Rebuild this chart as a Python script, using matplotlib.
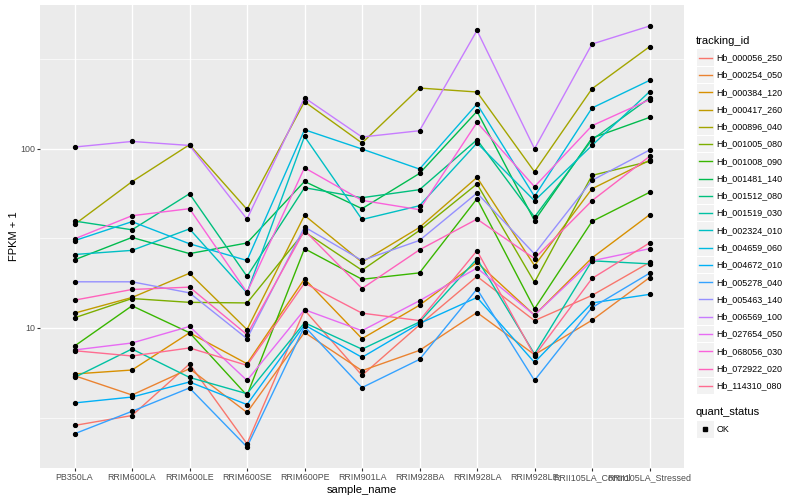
import numpy as np
import matplotlib
matplotlib.use("Agg")
import matplotlib.pyplot as plt
from matplotlib.patches import Rectangle
from matplotlib.lines import Line2D

plt.rcParams['font.family'] = ['Liberation Sans', 'DejaVu Sans']

samples = ["PB350LA", "RRIM600LA", "RRIM600LE", "RRIM600SE", "RRIM600PE",
           "RRIM901LA", "RRIM928BA", "RRIM928LA", "RRIM928LE",
           "RRII105LA_Control", "RRII105LA_Stressed"]

tracking_ids = ["Hb_000056_250", "Hb_000254_050", "Hb_000384_120", "Hb_000417_260",
                "Hb_000896_040", "Hb_001005_080", "Hb_001008_090", "Hb_001481_140",
                "Hb_001512_080", "Hb_001519_030", "Hb_002324_010", "Hb_004659_060",
                "Hb_004672_010", "Hb_005278_040", "Hb_005463_140", "Hb_006569_100",
                "Hb_027654_050", "Hb_068056_030", "Hb_072922_020", "Hb_114310_080"]

# FPKM + 1 per sample
hb_000056_250 = [2.86, 3.25, 6.3, 2.26, 12.6, 5.44, 10.4, 19.4, 11.0, 15.2, 23.2]
hb_000254_050 = [5.42, 4.23, 5.93, 3.38, 9.45, 5.78, 7.5, 12.2, 7.1, 11.05, 19.1]
hb_000384_120 = [5.54, 5.83, 9.4, 6.32, 18.8, 8.72, 13.4, 23.2, 11.8, 24.6, 42.8]
hb_000417_260 = [12.1, 14.8, 20.2, 9.8, 42.5, 23.3, 36.4, 69.2, 22.3, 59.8, 86.1]
hb_000896_040 = [37.8, 65.5, 105.3, 45.9, 182.9, 107.6, 218.0, 207.2, 74.4, 216.1, 370.6]
hb_001005_080 = [11.4, 14.6, 13.9, 13.8, 34.4, 21.0, 35.0, 63.6, 18.0, 71.0, 85.0]
hb_001008_090 = [7.93, 13.3, 9.41, 4.21, 27.7, 18.7, 20.3, 52.6, 12.8, 39.3, 57.1]
hb_001481_140 = [24.0, 32.0, 26.0, 29.8, 65.7, 46.3, 72.8, 161.5, 39.7, 114.7, 149.5]
hb_001512_080 = [39.5, 35.3, 56.1, 19.4, 60.6, 53.3, 59.1, 112.2, 41.6, 112.2, 191.8]
hb_001519_030 = [5.3, 7.64, 5.3, 4.3, 10.7, 7.62, 10.8, 24.3, 7.16, 23.7, 22.8]
hb_002324_010 = [25.7, 27.1, 35.7, 15.7, 117.1, 40.3, 48.1, 107.6, 51.3, 104.3, 207.9]
hb_004659_060 = [30.7, 39.2, 29.5, 23.8, 127.6, 99.6, 77.0, 177.6, 54.2, 168.7, 240.4]
hb_004672_010 = [3.82, 4.12, 5.0, 3.74, 10.4, 6.86, 10.6, 14.8, 6.43, 13.8, 15.4]
hb_005278_040 = [2.57, 3.43, 4.63, 2.17, 10.2, 4.65, 6.68, 16.5, 5.1, 13.0, 20.2]
hb_005463_140 = [18.1, 18.1, 15.7, 8.72, 36.6, 23.8, 30.8, 56.6, 25.9, 66.6, 98.3]
hb_006569_100 = [102.2, 109.8, 104.3, 40.5, 192.5, 116.2, 126.0, 456.9, 100.0, 383.6, 483.4]
hb_027654_050 = [7.54, 8.25, 10.2, 5.1, 12.65, 9.66, 14.2, 21.6, 11.8, 23.7, 27.7]
hb_068056_030 = [31.4, 42.3, 46.3, 15.8, 78.3, 51.5, 45.7, 140.2, 61.4, 134.4, 187.7]
hb_072922_020 = [14.3, 16.4, 16.9, 9.18, 35.0, 16.6, 27.3, 40.5, 24.4, 51.3, 90.6]
hb_114310_080 = [7.47, 6.98, 7.74, 6.19, 17.8, 12.1, 11.0, 27.0, 7.0, 18.9, 29.8]

series = [hb_000056_250, hb_000254_050, hb_000384_120, hb_000417_260, hb_000896_040,
          hb_001005_080, hb_001008_090, hb_001481_140, hb_001512_080, hb_001519_030,
          hb_002324_010, hb_004659_060, hb_004672_010, hb_005278_040, hb_005463_140,
          hb_006569_100, hb_027654_050, hb_068056_030, hb_072922_020, hb_114310_080]

# ggplot hue palette, 20 levels
colors = ["#F8766D", "#EA8331", "#D89000", "#C09B00", "#A3A500", "#7CAE00", "#39B600",
          "#00BB4E", "#00BF7D", "#00C1A3", "#00BFC4", "#00BAE0", "#00B0F6", "#35A2FF",
          "#9590FF", "#C77CFF", "#E76BF3", "#FA62DB", "#FF62BC", "#FF6C91"]

fig = plt.figure(figsize=(8, 5), dpi=100)
ax = fig.add_axes([40 / 800, 1 - 468 / 500, 644 / 800, 463 / 500])
ax.set_facecolor("#EBEBEB")
for s in ax.spines.values():
    s.set_visible(False)

x = np.arange(len(samples))
for vals, c in zip(series, colors):
    ax.plot(x, vals, color=c, lw=1.0, zorder=3)
for vals in series:
    ax.plot(x, vals, ls="none", marker="o", ms=2.8, color="black", zorder=4)

ax.set_yscale("log")
allv = np.log10(np.concatenate([np.array(v) for v in series]))
lo, hi = allv.min(), allv.max()
pad = (hi - lo) * 0.05
ax.set_ylim(10 ** (lo - pad), 10 ** (hi + pad))
ax.set_xlim(-0.6, len(samples) - 0.4)

ax.set_yticks([10, 100])
ax.set_yticklabels(["10", "100"])
ax.set_yticks([10 ** 0.5, 10 ** 1.5, 10 ** 2.5], minor=True)
ax.yaxis.set_minor_formatter(matplotlib.ticker.NullFormatter())
ax.set_xticks(x)
ax.set_xticklabels(samples)

ax.grid(True, which="major", color="white", lw=1.0, zorder=0)
ax.grid(True, which="minor", axis="y", color="white", lw=0.5, zorder=0)
ax.set_axisbelow(True)
ax.tick_params(which="major", length=2, width=0.8, color="#333333",
               labelsize=6.4, labelcolor="#4D4D4D", pad=1.6)
ax.tick_params(which="minor", length=0)

ax.set_xlabel("sample_name", fontsize=8, labelpad=2)
ax.set_ylabel("FPKM + 1", fontsize=8, labelpad=1)

# legend drawn in pixel coordinates of the right margin
lax = fig.add_axes([686 / 800, 0, 114 / 800, 1])
lax.set_xlim(686, 800)
lax.set_ylim(500, 0)
lax.axis("off")

lax.text(696, 40.5, "tracking_id", fontsize=8, va="center", ha="left")
step = 17.27
y0 = 57.7
for i, (name, c) in enumerate(zip(tracking_ids, colors)):
    yc = y0 + i * step
    lax.add_patch(Rectangle((697, yc - 8.3), 16.6, 16.6, color="#F2F2F2", lw=0))
    lax.add_line(Line2D([698.5, 711.5], [yc, yc], color=c, lw=1.0))
    lax.text(716.5, yc, name, fontsize=6.4, va="center", ha="left")

lax.text(696, 412.3, "quant_status", fontsize=8, va="center", ha="left")
lax.add_patch(Rectangle((697, 429.3 - 8.3), 16.6, 16.6, color="#F2F2F2", lw=0))
lax.plot([705], [429.3], marker="s", ms=2.6, color="black", ls="none")
lax.text(716.5, 429.3, "OK", fontsize=6.4, va="center", ha="left")

fig.savefig("out.png", dpi=100, facecolor="white")
